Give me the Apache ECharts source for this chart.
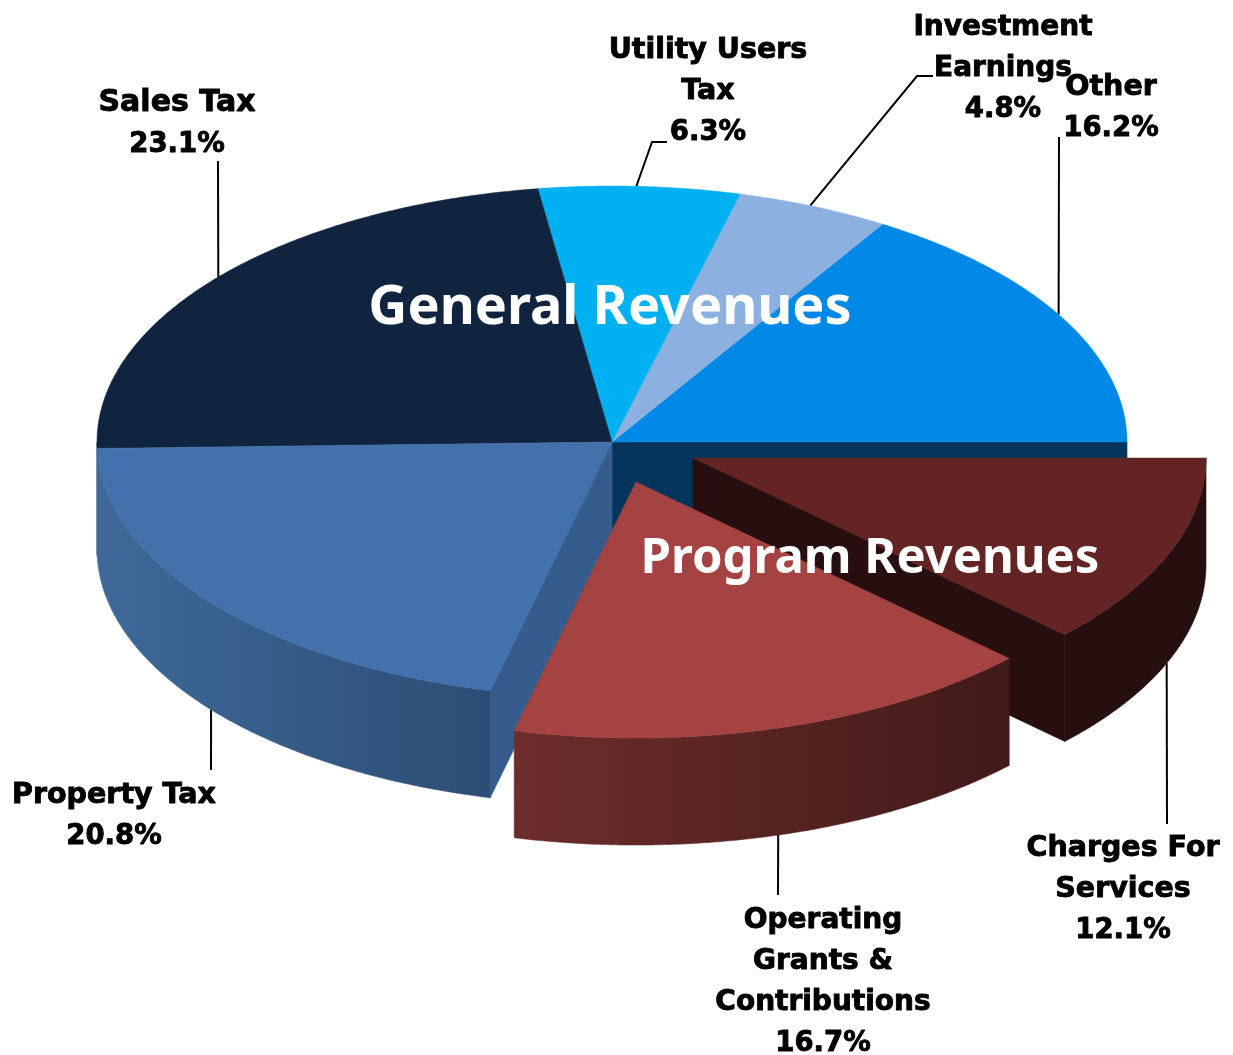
<!DOCTYPE html>
<html><head><meta charset="utf-8">
<style>html,body{margin:0;padding:0;background:#fff}#c{width:1233px;height:1055px}</style>
<script src="https://cdn.jsdelivr.net/npm/echarts@6/dist/echarts.min.js"></script>
</head><body><div id="c"></div>
<script>
const categories = ['Other','Investment\nEarnings','Utility Users\nTax','Sales Tax','Property Tax','Operating\nGrants &\nContributions','Charges For\nServices'];
const shares = [16.2,4.8,6.3,23.1,20.8,16.7,12.1];
const topColors = ['#0088e6','#8cb0df','#00b0f0','#10243f','#4271ab','#a44342','#632423'];
const wallLeft = ['#03355c','#8cb0df','#00b0f0','#10243f','#3f6999','#6d2d2c','#260f0e'];
const wallRight = ['#03355c','#8cb0df','#00b0f0','#10243f','#2c4d75','#411a19','#260f0e'];
const sideColors = ['#03355c',null,null,null,'#355c8c',null,'#260f0e'];
const explodeX = [0,0,0,0,0,24,81];
const explodeY = [0,0,0,0,0,40,16];
const radiusX = [515,515,515,515,515,515,513];
const paintOrder = [0,1,2,3,4,6,5];
const labelX = [1111,1003,708,177,114,823,1123];
const labelY = [87.5,27.5,50.5,103.5,795.5,920.5,848.5];
const labelSize = [28.5,28,28.5,30,28.5,28,28.5];
const percentSize = 27.5;
const leaderEnd = [[[1059,137]],[[917,76],[933,76]],[[652,142],[667,142]],[[218,161]],[[211,770]],[[778,895]],[[1167,824]]];
const leaderShift = [0.7,0.4,0.35,0,0,-0.35,-0.8];
const groupTitles = ['General Revenues','Program Revenues'];
const groupTitleX = [610,870];
const groupTitleY = [309,559];
const groupTitleSize = [54,49];

const CX=612, CY=442, RY=256, DEPTH=107, STEP=41;
const FONT='"DejaVu Sans"';
const total = shares.reduce((a,b)=>a+b,0);
const rad = d=>d*Math.PI/180;
function angles(i){
  let s=0; for(let k=0;k<i;k++) s+=shares[k];
  return [s/total*360,(s+shares[i])/total*360];
}
function rim(i,a,dz){
  return [CX+explodeX[i]+radiusX[i]*Math.cos(rad(a)), CY+explodeY[i]-RY*Math.sin(rad(a))+(dz||0)];
}
function arc(i,a0,a1,dz){
  const n=Math.max(2,Math.ceil((a1-a0)*2)), p=[];
  for(let k=0;k<=n;k++) p.push(rim(i,a0+(a1-a0)*k/n,dz));
  return p;
}
function renderSlice(params,api){
  const i=params.dataIndex, [a0,a1]=angles(i), o=paintOrder[i]*10;
  const apex=[CX+explodeX[i],CY+explodeY[i]], base=[apex[0],apex[1]+DEPTH];
  const kids=[];
  const side=(a,z)=>kids.push({type:'polygon',z2:o+z,shape:{points:[apex,rim(i,a),rim(i,a,DEPTH),base]},
    style:{fill:sideColors[i],stroke:sideColors[i],lineWidth:0.6,lineJoin:'round'}});
  if(sideColors[i]&&i!==4) side(a0,0);
  if(sideColors[i]&&i===4) side(a1,0);
  const w0=Math.max(a0,180), w1=Math.min(a1,360);
  if(w1>w0&&i!==0){
    const g=()=>wallLeft[i]===wallRight[i]?wallLeft[i]:new echarts.graphic.LinearGradient(0,0,1,0,[{offset:0,color:wallLeft[i]},{offset:1,color:wallRight[i]}]);
    kids.push({type:'polygon',z2:o+1,shape:{points:arc(i,w0,w1,0).concat(arc(i,w0,w1,DEPTH).reverse())},
      style:{fill:g(),stroke:g(),lineWidth:0.6,lineJoin:'round'}});
  }
  kids.push({type:'polygon',z2:o+2,shape:{points:[apex].concat(arc(i,a0,a1,0))},
    style:{fill:topColors[i],stroke:topColors[i],lineWidth:0.5,lineJoin:'round'}});
  return {type:'group',children:kids};
}
function renderLeader(params,api){
  const i=params.dataIndex,[a0,a1]=angles(i),m=(a0+a1)/2+leaderShift[i];
  const dz=Math.sin(rad(m))<0?DEPTH:0;
  return {type:'polyline',shape:{points:[rim(i,m,dz)].concat(leaderEnd[i])},style:{stroke:'#000',lineWidth:2,fill:null}};
}
function renderLabel(params,api){
  const i=params.dataIndex;
  const names=categories[i].split('\n');
  const lines=names.concat(api.value(0).toFixed(1)+'%');
  return {type:'group',children:lines.map((t,k)=>({type:'text',style:{text:t,x:labelX[i],y:labelY[i]+k*STEP,align:'center',verticalAlign:'middle',
    font:'bold '+(k<names.length?labelSize[i]:percentSize)+'px '+FONT,fill:'#000',stroke:'#000',lineWidth:0.9}}))};
}
function renderTitle(params,api){
  const i=params.dataIndex;
  return {type:'text',style:{text:groupTitles[i],x:groupTitleX[i],y:groupTitleY[i],align:'center',verticalAlign:'middle',
    font:'bold '+groupTitleSize[i]+'px "Noto Sans"',fill:'#fff'}};
}
const chart=echarts.init(document.getElementById('c'),null,{renderer:'canvas'});
chart.setOption({
  animation:false,backgroundColor:'#fff',
  series:[
    {type:'custom',coordinateSystem:'none',z:1,silent:true,data:shares.map(v=>[v]),renderItem:renderLeader},
    {type:'custom',coordinateSystem:'none',z:2,silent:true,data:shares.map(v=>[v]),renderItem:renderSlice},
    {type:'custom',coordinateSystem:'none',z:3,silent:true,data:shares.map(v=>[v]),renderItem:renderLabel},
    {type:'custom',coordinateSystem:'none',z:4,silent:true,data:groupTitles.map((t,i)=>[i]),renderItem:renderTitle}
  ]
});
</script></body></html>
